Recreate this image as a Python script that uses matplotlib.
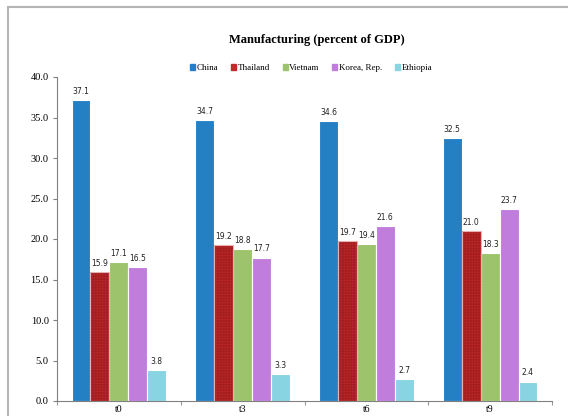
import numpy as np
import matplotlib
matplotlib.use('Agg')
import matplotlib.pyplot as plt
from matplotlib.patches import Rectangle

# 数据
periods = ['t0', 't3', 't6', 't9']
countries = ['China', 'Thailand', 'Vietnam', 'Korea, Rep.', 'Ethiopia']
china = [37.1, 34.7, 34.6, 32.5]
thailand = [15.9, 19.2, 19.7, 21.0]
vietnam = [17.1, 18.8, 19.4, 18.3]
korea = [16.5, 17.7, 21.6, 23.7]
ethiopia = [3.8, 3.3, 2.7, 2.4]

series = [china, thailand, vietnam, korea, ethiopia]
colors = ['#2580c3', '#c42a2b', '#9dc46c', '#c17ddc', '#88d4e3']

plt.rcParams['font.family'] = ['Liberation Serif', 'DejaVu Serif']

fig = plt.figure(figsize=(5.68, 4.16), dpi=100)
ax = fig.add_axes([57 / 568, 1 - 401 / 416, 495 / 568, 324 / 416])

x = np.arange(len(periods))
w = 0.153
for i, (vals, c) in enumerate(zip(series, colors)):
    pos = x + (i - 2) * w
    if countries[i] == 'Thailand':
        ax.bar(pos, vals, w, color=c, edgecolor='#a51e20', linewidth=0,
               hatch='++++++', zorder=2)
        ax.bar(pos, vals, w, fill=False, edgecolor='#e8b0b0', linewidth=0.8,
               zorder=3)
    else:
        ax.bar(pos, vals, w, color=c, edgecolor='white', linewidth=0.8,
               zorder=2)
    for px, v in zip(pos, vals):
        ax.annotate(f'{v:.1f}', (px, v), textcoords='offset points',
                    xytext=(0, 3), ha='center', va='bottom', fontsize=5.5,
                    family='DejaVu Sans', color='#222222')

ax.set_xlim(-0.5, len(periods) - 0.5)
ax.set_ylim(0, 40)
ax.set_yticks(np.arange(0, 40.1, 5))
ax.set_yticklabels([f'{t:.1f}' for t in np.arange(0, 40.1, 5)], fontsize=7.5)
ax.set_xticks(np.arange(-0.5, len(periods), 1))
ax.set_xticklabels([])
ax.set_xticks(x, minor=True)
ax.set_xticklabels(periods, minor=True, fontsize=7)
ax.tick_params(axis='x', which='minor', length=0, pad=3)
ax.tick_params(axis='x', which='major', length=3, color='#999999')
ax.tick_params(axis='y', length=3, color='#808080', pad=3)
for s in ['top', 'right']:
    ax.spines[s].set_visible(False)
for s in ['left', 'bottom']:
    ax.spines[s].set_color('#808080')

# 图例
handles = [plt.Rectangle((0, 0), 1, 1, color=c) for c in colors]
fig.legend(handles, countries, loc='center', bbox_to_anchor=(311 / 568, 1 - 68 / 416),
           ncol=5, frameon=False, fontsize=6.5, handlelength=0.55, handleheight=0.55,
           handletextpad=0.15, columnspacing=1.45)

fig.text(317 / 568, 1 - 40 / 416, 'Manufacturing (percent of GDP)', ha='center',
         va='center', fontsize=9, fontweight='bold')

# 外框
fig.patches.append(Rectangle((8 / 568, -0.1), 1.2, 1 - 7 / 416 + 0.1,
                             transform=fig.transFigure, fill=False,
                             edgecolor='#b5b5b5', linewidth=1.5))

fig.savefig('out.png', dpi=100)
